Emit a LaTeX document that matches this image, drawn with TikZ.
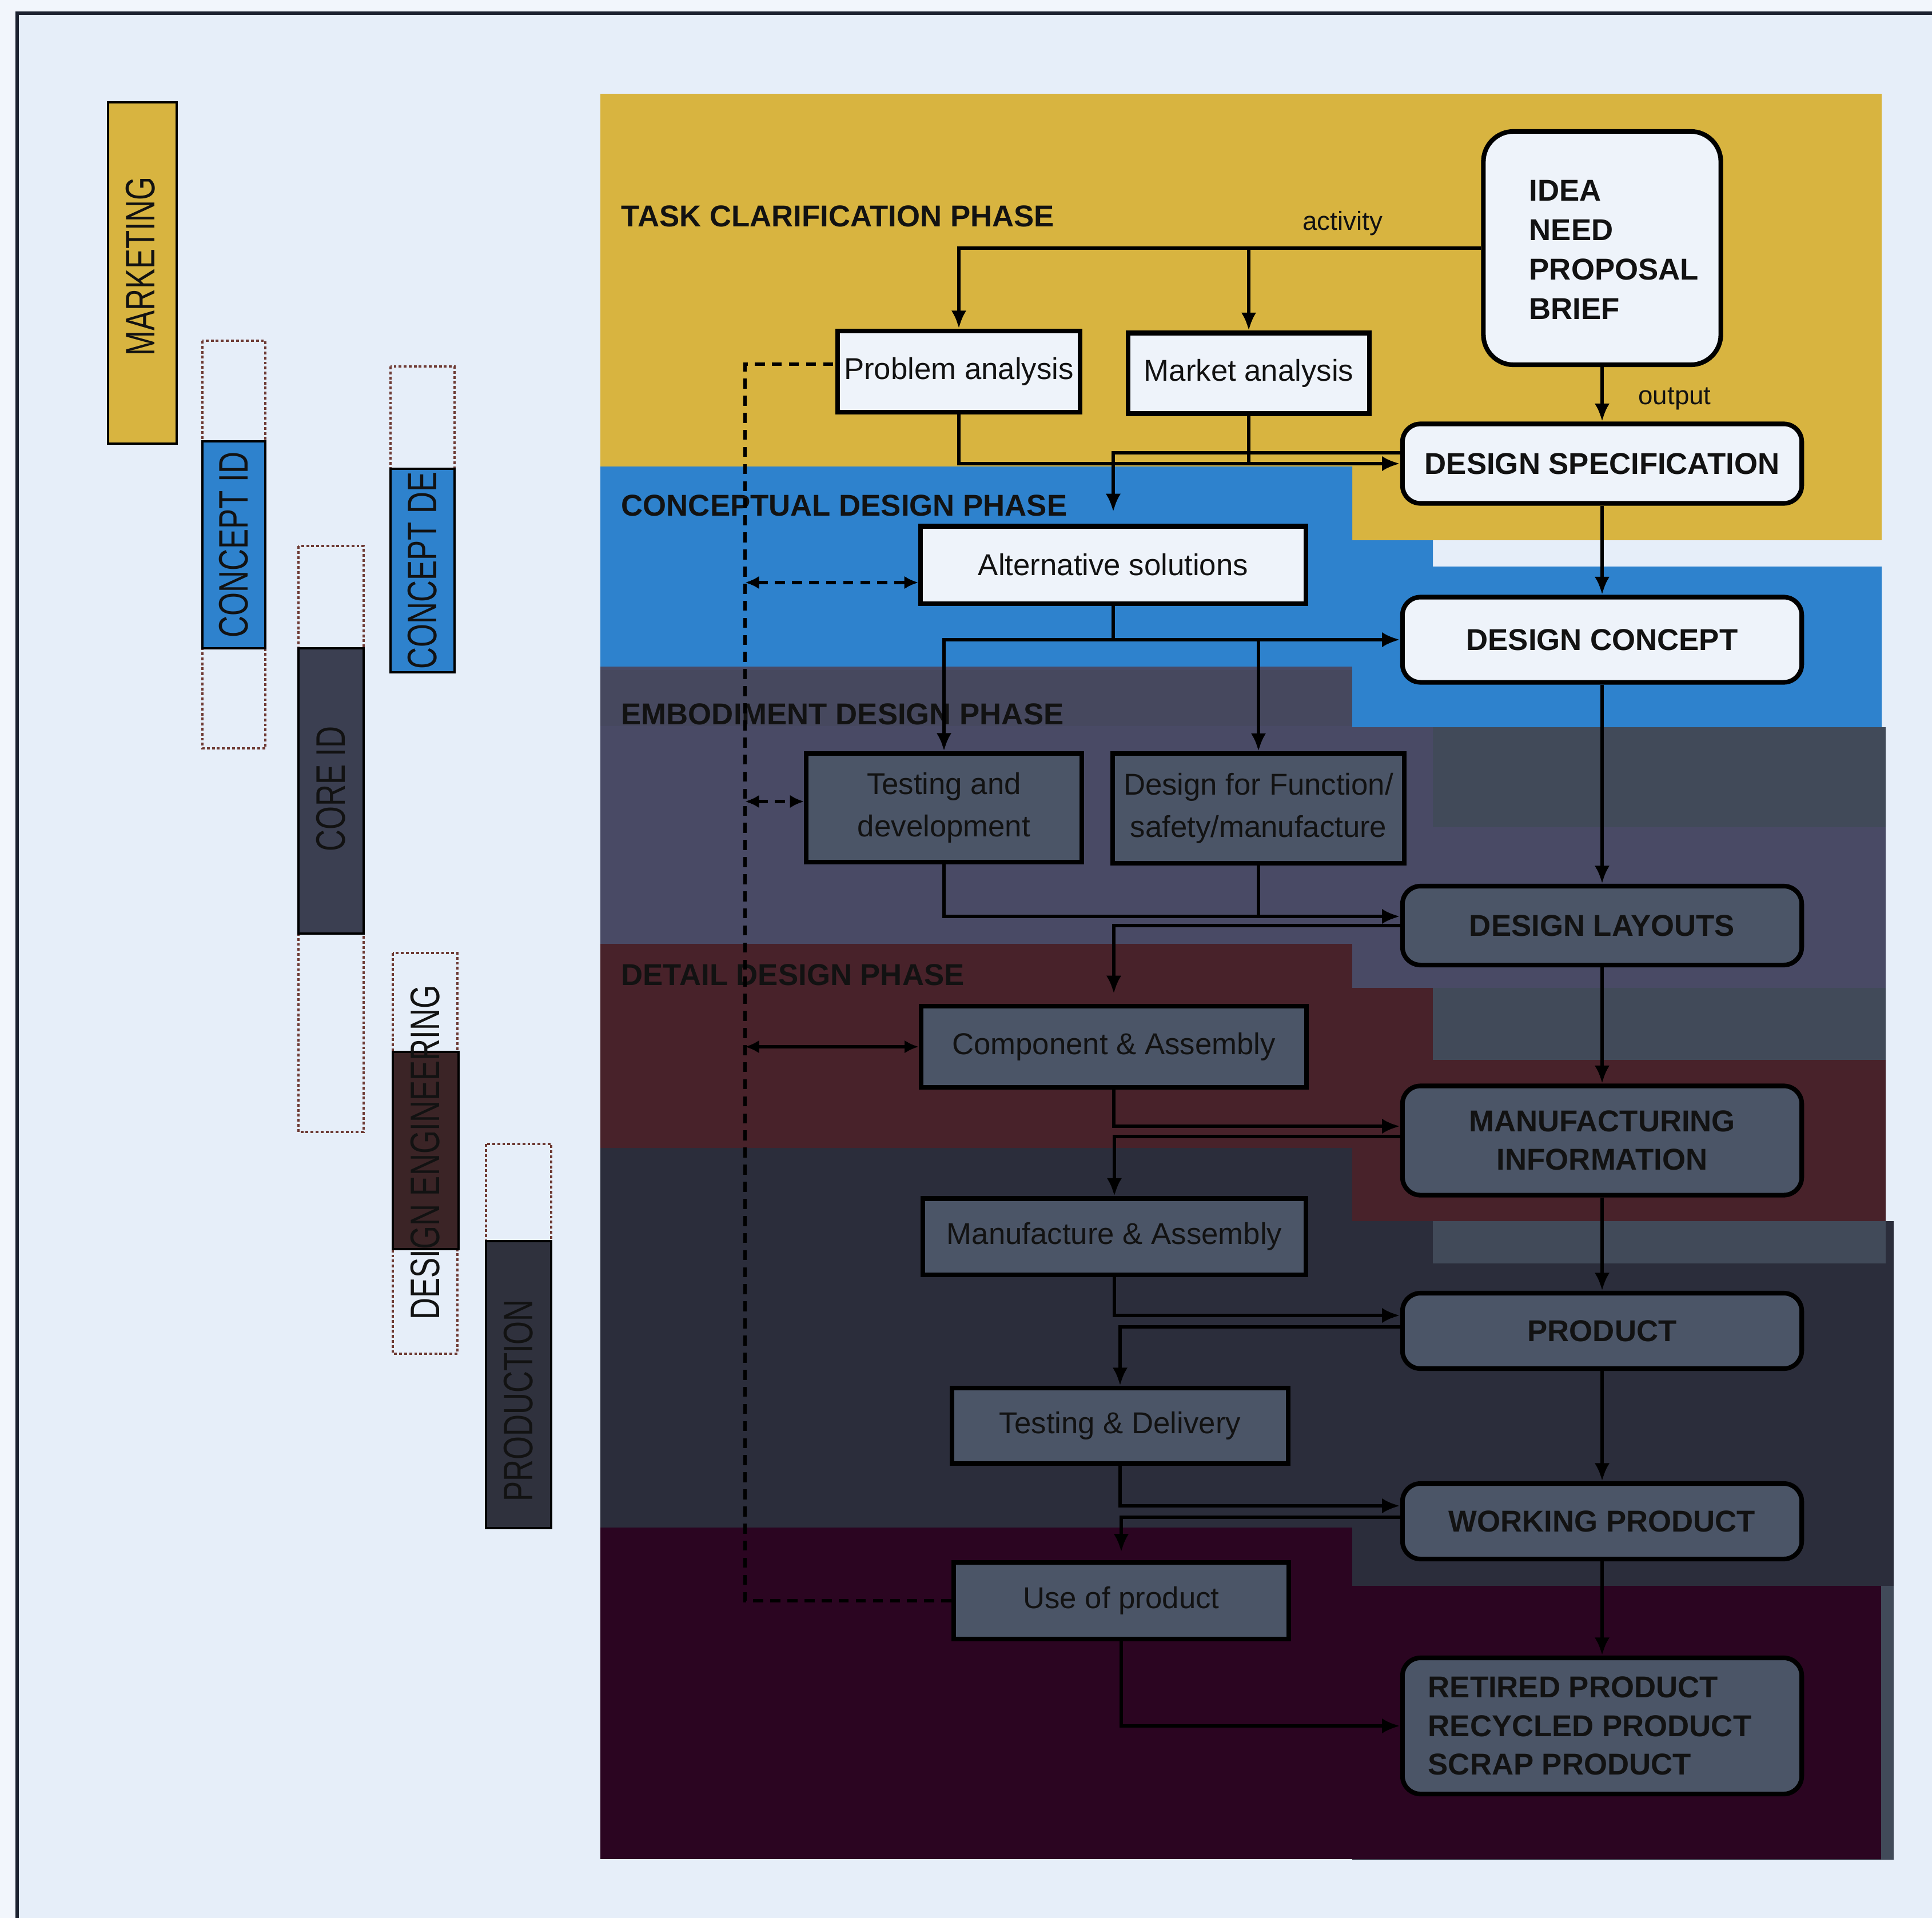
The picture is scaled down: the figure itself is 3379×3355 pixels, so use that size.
\documentclass[tikz,border=0pt]{standalone}
\usepackage{fontspec}
\usepackage{graphicx}
\setmainfont{Liberation Sans}
\usetikzlibrary{arrows.meta,calc}

\definecolor{pagebg}{HTML}{E6EEF9}
\definecolor{pageout}{HTML}{F2F6FC}
\definecolor{frameln}{HTML}{1C2230}
\definecolor{ink}{HTML}{121212}
\definecolor{phYellow}{HTML}{D8B440}
\definecolor{phBlue}{HTML}{2E82CD}
\definecolor{phEmbod}{HTML}{494A65}
\definecolor{phEmbodStrip}{HTML}{46485E}
\definecolor{phSlate}{HTML}{414A59}
\definecolor{phDetail}{HTML}{48222A}
\definecolor{phManuf}{HTML}{2B2D3B}
\definecolor{phUse}{HTML}{2B0521}
\definecolor{boxLight}{HTML}{EEF3FA}
\definecolor{boxDark}{HTML}{4B5567}
\definecolor{laneDash}{HTML}{6E3A34}
\definecolor{coreFill}{HTML}{3B3F51}
\definecolor{engFill}{HTML}{3B2426}
\definecolor{prodFill}{HTML}{2F313D}

\newcommand{\ndActFont}{\fontsize{15}{21}\selectfont}
\newcommand{\ndOutFont}{\bfseries\fontsize{15}{19.2}\selectfont}

\begin{document}
\begin{tikzpicture}[x=0.01cm,y=-0.01cm,
  flow/.style={line width=1.8pt, -{Latex[length=9pt,width=7.5pt]}},
  link/.style={line width=1.8pt},
  fbline/.style={line width=1.5pt, dash pattern=on 5pt off 3.5pt},
  twoway/.style={{Latex[length=7pt,width=6.5pt]}-{Latex[length=7pt,width=6.5pt]}},
  sz/.style 2 args={minimum width=#1, minimum height=#2},
  box/.style={draw=black, line width=2.3pt, inner sep=0pt, align=center, text=ink},
  actL/.style={box, fill=boxLight, font=\ndActFont},
  actD/.style={box, fill=boxDark, font=\ndActFont},
  outL/.style={box, fill=boxLight, rounded corners=9pt, font=\ndOutFont},
  outD/.style={box, fill=boxDark, rounded corners=9pt, font=\ndOutFont},
  phase/.style={anchor=west, inner sep=0pt, text=ink, font=\bfseries\fontsize{15}{18}\selectfont},
  tag/.style={inner sep=0pt, text=ink, font=\fontsize{13}{15}\selectfont},
  lane/.style={draw=laneDash, line width=0.9pt, dash pattern=on 1.4pt off 1.1pt},
  laneFill/.style={draw=black, line width=1.3pt},
  laneTxt/.style={rotate=90, inner sep=0pt, text=ink, font=\fontsize{20.5}{24}\selectfont},
]
% page and frame
\fill[pageout] (0,0) rectangle (3379,3355);
\useasboundingbox (0,0) rectangle (3379,3355);
\fill[pagebg] (30,23) rectangle (3379,3355);
\draw[frameln, line width=1.5pt] (30,3355) -- (30,23) -- (3379,23);

% phase bands
\fill[phYellow] (1050,164) rectangle (3291,945);
\fill[phBlue] (1050,816) -- (2365,816) -- (2365,945) -- (2506,945) -- (2506,991)
  -- (3291,991) -- (3291,1272) -- (2365,1272) -- (2365,1166) -- (1050,1166) -- cycle;
\fill[phEmbod] (1050,1166) rectangle (2365,1651);
\fill[phEmbod] (2365,1272) rectangle (3298,1728);
\fill[phEmbodStrip] (1050,1172) rectangle (2365,1270);
\fill[phDetail] (1050,1651) rectangle (2365,2008);
\fill[phDetail] (2365,1728) rectangle (3298,2136);
\fill[phManuf] (1050,2008) rectangle (2365,2672);
\fill[phManuf] (2365,2136) rectangle (3312,3253);
\fill[phUse] (1050,2672) rectangle (2365,3252);
\fill[phUse] (2365,2774) rectangle (3290,3252);
\fill[phSlate] (2506,1272) rectangle (3298,1447);
\fill[phSlate] (2506,1728) rectangle (3298,1854);
\fill[phSlate] (2506,2136) rectangle (3298,2210);
\fill[phSlate] (3290,2774) rectangle (3312,3253);

% phase titles
\node[phase] (phTask)   at (1086,378)  {TASK CLARIFICATION PHASE};
\node[phase] (phConc)   at (1086,884)  {CONCEPTUAL DESIGN PHASE};
\node[phase] (phEmbod)  at (1086,1249) {EMBODIMENT DESIGN PHASE};
\node[phase] (phDetail) at (1086,1705) {DETAIL DESIGN PHASE};

% left-hand lanes
\draw[laneFill, fill=phYellow] (189,179) rectangle (309,776);
\node[laneTxt] (tMarketing) at (246,466) {\scalebox{0.73}[1]{MARKETING}};

\draw[lane] (354,596) rectangle (464,1309);
\draw[laneFill, fill=phBlue] (354,772) rectangle (464,1134);
\node[laneTxt] (tConceptId) at (409,953) {\scalebox{0.73}[1]{CONCEPT ID}};

\draw[lane] (522,955) rectangle (636,1980);
\draw[laneFill, fill=coreFill] (522,1134) rectangle (636,1633);
\node[laneTxt] (tCoreId) at (579,1380) {\scalebox{0.73}[1]{CORE ID}};

\draw[lane] (683,641) rectangle (795,1176);
\draw[laneFill, fill=phBlue] (683,820) rectangle (795,1176);
\node[laneTxt] (tConceptDe) at (739,998) {\scalebox{0.73}[1]{CONCEPT DE}};

\draw[lane] (687,1667) rectangle (800,2368);
\draw[laneFill, fill=engFill] (687,1840) rectangle (802,2185);
\node[laneTxt] (tDesEng) at (744,2016) {\scalebox{0.73}[1]{DESIGN ENGINEERING}};

\draw[lane] (850,2001) rectangle (964,2673);
\draw[laneFill, fill=prodFill] (850,2171) rectangle (964,2673);
\node[laneTxt] (tProduction) at (907,2450) {\scalebox{0.73}[1]{PRODUCTION}};

% activities and outputs
\node[outL, sz={4.15cm}{4.08cm}, rounded corners=15pt] (idea) at (2802,434) {};
\node[inner sep=0pt, anchor=west, align=left, text=ink, font=\ndOutFont, font=\bfseries\fontsize{15}{19.6}\selectfont]
  (ideatxt) at (2674,437) {IDEA\\NEED\\PROPOSAL\\BRIEF};
\node[actL, sz={4.23cm}{1.42cm}] (prob) at (1677,650) {Problem analysis};
\node[actL, sz={4.22cm}{1.41cm}] (mkt)  at (2184,653) {Market analysis};
\node[outL, sz={6.98cm}{1.39cm}] (ds)   at (2802,811) {DESIGN SPECIFICATION};
\node[actL, sz={6.73cm}{1.35cm}] (alt)  at (1947,988) {Alternative solutions};
\node[outL, sz={6.98cm}{1.49cm}] (dc)   at (2802,1119) {DESIGN CONCEPT};
\node[actD, sz={4.81cm}{1.90cm}] (test) at (1651,1413) {Testing and\\development};
\node[actD, sz={5.09cm}{1.91cm}] (dff)  at (2201,1414) {Design for Function/\\safety/manufacture};
\node[outD, sz={6.98cm}{1.38cm}] (dl)   at (2802,1619) {DESIGN LAYOUTS};
\node[actD, sz={6.74cm}{1.42cm}] (comp) at (1948,1831) {Component \& Assembly};
\node[outD, sz={6.98cm}{1.91cm}] (mi)   at (2802,1995) {MANUFACTURING\\INFORMATION};
\node[actD, sz={6.70cm}{1.33cm}] (manu) at (1949,2163) {Manufacture \& Assembly};
\node[outD, sz={6.98cm}{1.32cm}] (prod) at (2802,2328) {PRODUCT};
\node[actD, sz={5.87cm}{1.32cm}] (td)   at (1959,2494) {Testing \& Delivery};
\node[outD, sz={6.98cm}{1.32cm}] (wp)   at (2802,2661) {WORKING PRODUCT};
\node[actD, sz={5.86cm}{1.34cm}] (use)  at (1961,2800) {Use of product};
\node[outD, sz={6.98cm}{2.38cm}] (ret)  at (2802,3019) {};
\node[inner sep=0pt, anchor=west, align=left, text=ink, font=\ndOutFont]
  (rettxt) at (2497,3019) {RETIRED PRODUCT\\RECYCLED PRODUCT\\SCRAP PRODUCT};

\node[tag] (lblAct) at (2348,391) {activity};
\node[tag] (lblOut) at (2929,697) {output};

% output chain
\foreach \a/\b in {idea/ds, ds/dc, dc/dl, dl/mi, mi/prod, prod/wp, wp/ret}
  \draw[flow] (\a.south) -- (\b.north);

% task clarification
\draw[flow] (idea.west) -| (prob.north);
\draw[flow] (idea.west -| mkt.north) -- (mkt.north);
\draw[flow] (prob.south) |- (ds.west);
\draw[link] (mkt.south) -- (mkt.south |- ds.west);

% conceptual design
\coordinate (dsOut) at ($(ds.west)+(0,-19)$);
\draw[flow, shorten >=6pt] (dsOut) -| (alt.north);
\draw[flow] (alt.south) |- (dc.west);
\draw[flow] (alt.south |- dc.west) -| (test.north);
\draw[flow] (dc.west -| dff.north) -- (dff.north);

% embodiment design
\coordinate (dlIn) at ($(dl.west)+(0,-16)$);
\draw[flow] (test.south) |- (dlIn);
\draw[link] (dff.south) -- (dff.south |- dlIn);
\draw[flow, shorten >=5pt] (dl.west) -| (comp.north);

% detail design and later
\coordinate (miIn)  at ($(mi.west)+(0,-25)$);
\coordinate (miOut) at ($(mi.west)+(0,-7)$);
\draw[flow] (comp.south) |- (miIn);
\draw[flow] (miOut) -| (manu.north);

\coordinate (prIn)  at ($(prod.west)+(0,-27)$);
\coordinate (prOut) at ($(prod.west)+(0,-7)$);
\draw[flow] (manu.south) |- (prIn);
\draw[flow] (prOut) -| (td.north);

\coordinate (wpIn)  at ($(wp.west)+(0,-27)$);
\coordinate (wpOut) at ($(wp.west)+(0,-7)$);
\draw[flow] (td.south) |- (wpIn);
\draw[flow, shorten >=4pt] (wpOut) -| (use.north);

\draw[flow] (use.south) |- (ret.west);

% feedback spine
\coordinate (fbx) at (1303,0);
\coordinate (probFb) at ($(prob.west)+(0,-13)$);
\coordinate (altFb)  at ($(alt.west)+(0,31)$);
\coordinate (testFb) at ($(test.west)+(0,-11)$);
\draw[fbline] (use.west) -- (use.west -| fbx) -- (fbx |- probFb) -- (probFb);
\draw[fbline, twoway] (fbx |- altFb) -- (altFb);
\draw[fbline, twoway] (fbx |- testFb) -- (testFb);
\draw[link, twoway] (fbx |- comp.west) -- (comp.west);
\end{tikzpicture}
\end{document}
